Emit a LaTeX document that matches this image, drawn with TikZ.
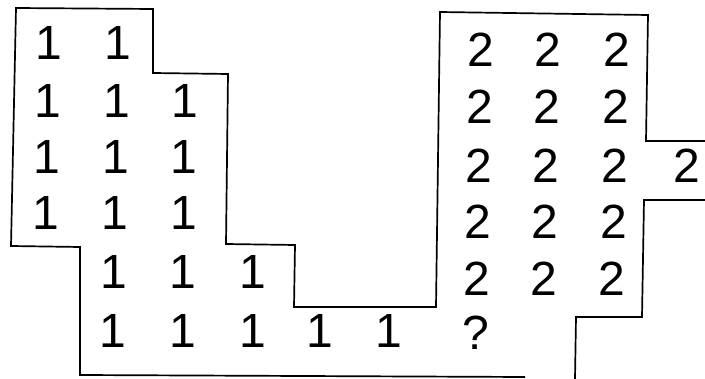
\documentclass[tikz,border=0pt]{standalone}
\usepackage{fontspec}
\setmainfont{Liberation Sans}
\begin{document}
\begin{tikzpicture}[x=1pt,y=-1pt,
  wall/.style={line width=1.7pt,line join=miter},
  cell/.style={inner sep=0pt,font=\fontsize{48}{48}\selectfont}]
\useasboundingbox (0,0) rectangle (705,379);
% outline of region 1 and the lower-left border, continuing round region 2
\draw[wall] (525,377) -- (80,375) -- (80,247) -- (11,246) -- (16,8) -- (153,9)
  -- (153,73) -- (228,74) -- (226,244) -- (295,245) -- (294,307) -- (436,307)
  -- (440,12) -- (648,15) -- (646,141) -- (705,141);
% lower-right border of region 2
\draw[wall] (705,200) -- (644,200) -- (642,317) -- (576,317) -- (575,379);
% region 1 labels
\node[cell] (a11) at (49,43) {1};
\node[cell] (a12) at (118,43) {1};
\node[cell] (a21) at (48,101) {1};
\node[cell] (a22) at (117,101) {1};
\node[cell] (a23) at (185,101) {1};
\node[cell] (a31) at (47,157) {1};
\node[cell] (a32) at (116,157) {1};
\node[cell] (a33) at (184,157) {1};
\node[cell] (a41) at (46,213) {1};
\node[cell] (a42) at (115,213) {1};
\node[cell] (a43) at (184,213) {1};
\node[cell] (a51) at (114,272) {1};
\node[cell] (a52) at (183,272) {1};
\node[cell] (a53) at (253,272) {1};
\node[cell] (a61) at (113,331) {1};
\node[cell] (a62) at (183,331) {1};
\node[cell] (a63) at (253,331) {1};
\node[cell] (a64) at (320,331) {1};
\node[cell] (a65) at (389,331) {1};
% unknown cell
\node[cell] (q) at (476,333) {?};
% region 2 labels
\node[cell] (b11) at (481,50) {2};
\node[cell] (b12) at (548,50) {2};
\node[cell] (b13) at (617,50) {2};
\node[cell] (b21) at (480,107) {2};
\node[cell] (b22) at (547,107) {2};
\node[cell] (b23) at (616,107) {2};
\node[cell] (b31) at (479,166) {2};
\node[cell] (b32) at (546,166) {2};
\node[cell] (b33) at (615,166) {2};
\node[cell] (b34) at (687,166) {2};
\node[cell] (b41) at (478,222) {2};
\node[cell] (b42) at (545,222) {2};
\node[cell] (b43) at (614,222) {2};
\node[cell] (b51) at (477,279) {2};
\node[cell] (b52) at (544,279) {2};
\node[cell] (b53) at (612,279) {2};
\end{tikzpicture}
\end{document}
